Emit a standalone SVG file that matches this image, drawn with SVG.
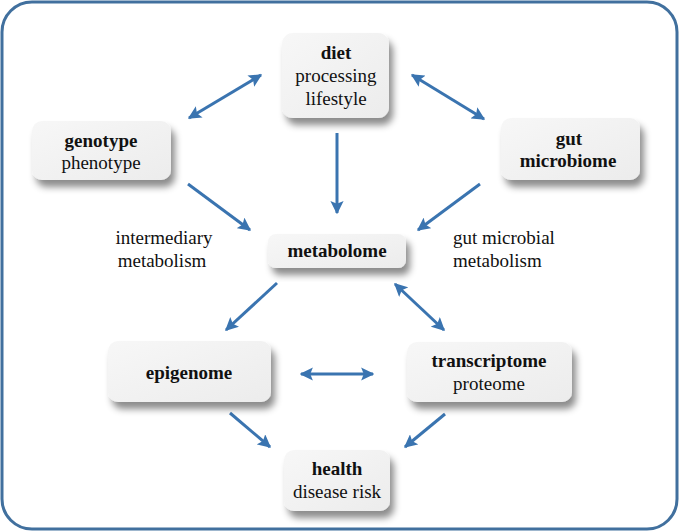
<svg xmlns="http://www.w3.org/2000/svg" width="679" height="531" viewBox="0 0 679 531">
<defs>
<linearGradient id="g" x1="0" y1="0" x2="1" y2="1">
<stop offset="0" stop-color="#f7f7f7"/><stop offset="1" stop-color="#ececec"/>
</linearGradient>
<filter id="sh" x="-20%" y="-20%" width="150%" height="160%">
<feDropShadow dx="4" dy="7" stdDeviation="3.5" flood-color="#000" flood-opacity="0.45"/>
</filter>
<marker id="ah" viewBox="0 0 10 10" refX="9" refY="5" markerWidth="4.4" markerHeight="4.4" orient="auto-start-reverse" markerUnits="strokeWidth">
<path d="M0,0 L10,5 L0,10 L2,5 Z" fill="#3a74b0"/>
</marker>
</defs>
<rect x="2" y="2" width="675" height="527" rx="30" fill="#fff" stroke="#41709e" stroke-width="3"/>
<g id="connectors" stroke="#3a74b0" stroke-width="3" fill="none">
<line x1="189" y1="118" x2="261" y2="75" marker-start="url(#ah)" marker-end="url(#ah)"/>
<line x1="412" y1="75" x2="484" y2="119" marker-start="url(#ah)" marker-end="url(#ah)"/>
<line x1="337" y1="133" x2="337" y2="213" marker-end="url(#ah)"/>
<line x1="188" y1="184" x2="250" y2="230" marker-end="url(#ah)"/>
<line x1="480" y1="184" x2="418" y2="230" marker-end="url(#ah)"/>
<line x1="277" y1="283" x2="226" y2="330" marker-end="url(#ah)"/>
<line x1="395" y1="284" x2="444" y2="330" marker-start="url(#ah)" marker-end="url(#ah)"/>
<line x1="301" y1="374" x2="373" y2="374" marker-start="url(#ah)" marker-end="url(#ah)"/>
<line x1="230" y1="413" x2="270" y2="447" marker-end="url(#ah)"/>
<line x1="445" y1="414" x2="405" y2="447" marker-end="url(#ah)"/>
</g>
<g id="diet">
<rect fill="url(#g)" filter="url(#sh)" x="282" y="33" width="107" height="85" rx="11"/>
<text x="336" y="59" font-family="Times New Roman" style="font-family:'Times New Roman',serif" font-size="19" font-weight="bold" text-anchor="middle" fill="#111">diet</text>
<text x="336" y="82" font-family="Times New Roman" style="font-family:'Times New Roman',serif" font-size="19" text-anchor="middle" fill="#111">processing</text>
<text x="336" y="105" font-family="Times New Roman" style="font-family:'Times New Roman',serif" font-size="19" text-anchor="middle" fill="#111">lifestyle</text>
</g>
<g id="genotype">
<rect fill="url(#g)" filter="url(#sh)" x="32" y="121" width="139" height="59" rx="10"/>
<text x="101" y="147" font-family="Times New Roman" style="font-family:'Times New Roman',serif" font-size="19" font-weight="bold" text-anchor="middle" fill="#111">genotype</text>
<text x="101" y="169" font-family="Times New Roman" style="font-family:'Times New Roman',serif" font-size="19" text-anchor="middle" fill="#111">phenotype</text>
</g>
<g id="gut-microbiome">
<rect fill="url(#g)" filter="url(#sh)" x="501" y="118" width="139" height="62" rx="10"/>
<text x="569" y="145" font-family="Times New Roman" style="font-family:'Times New Roman',serif" font-size="19" font-weight="bold" text-anchor="middle" fill="#111">gut</text>
<text x="568" y="167" font-family="Times New Roman" style="font-family:'Times New Roman',serif" font-size="19" font-weight="bold" text-anchor="middle" fill="#111">microbiome</text>
</g>
<g id="metabolome">
<rect fill="url(#g)" filter="url(#sh)" x="268" y="234" width="138" height="34" rx="8"/>
<text x="337" y="257" font-family="Times New Roman" style="font-family:'Times New Roman',serif" font-size="19" font-weight="bold" text-anchor="middle" fill="#111">metabolome</text>
</g>
<g id="epigenome">
<rect fill="url(#g)" filter="url(#sh)" x="108" y="341" width="163" height="61" rx="10"/>
<text x="189" y="379" font-family="Times New Roman" style="font-family:'Times New Roman',serif" font-size="19" font-weight="bold" text-anchor="middle" fill="#111">epigenome</text>
</g>
<g id="transcriptome">
<rect fill="url(#g)" filter="url(#sh)" x="407" y="342" width="165" height="60" rx="10"/>
<text x="489" y="367" font-family="Times New Roman" style="font-family:'Times New Roman',serif" font-size="19" font-weight="bold" text-anchor="middle" fill="#111">transcriptome</text>
<text x="489" y="390" font-family="Times New Roman" style="font-family:'Times New Roman',serif" font-size="19" text-anchor="middle" fill="#111">proteome</text>
</g>
<g id="health">
<rect fill="url(#g)" filter="url(#sh)" x="284" y="450" width="106" height="61" rx="10"/>
<text x="337" y="475" font-family="Times New Roman" style="font-family:'Times New Roman',serif" font-size="19" font-weight="bold" text-anchor="middle" fill="#111">health</text>
<text x="337" y="498" font-family="Times New Roman" style="font-family:'Times New Roman',serif" font-size="19" text-anchor="middle" fill="#111">disease risk</text>
</g>
<g id="labels">
<text x="164" y="244" font-family="Times New Roman" style="font-family:'Times New Roman',serif" font-size="19" text-anchor="middle" fill="#111">intermediary</text>
<text x="162" y="267" font-family="Times New Roman" style="font-family:'Times New Roman',serif" font-size="19" text-anchor="middle" fill="#111">metabolism</text>
<text x="453" y="244" font-family="Times New Roman" style="font-family:'Times New Roman',serif" font-size="19" fill="#111">gut microbial</text>
<text x="453" y="267" font-family="Times New Roman" style="font-family:'Times New Roman',serif" font-size="19" fill="#111">metabolism</text>
</g>
</svg>
